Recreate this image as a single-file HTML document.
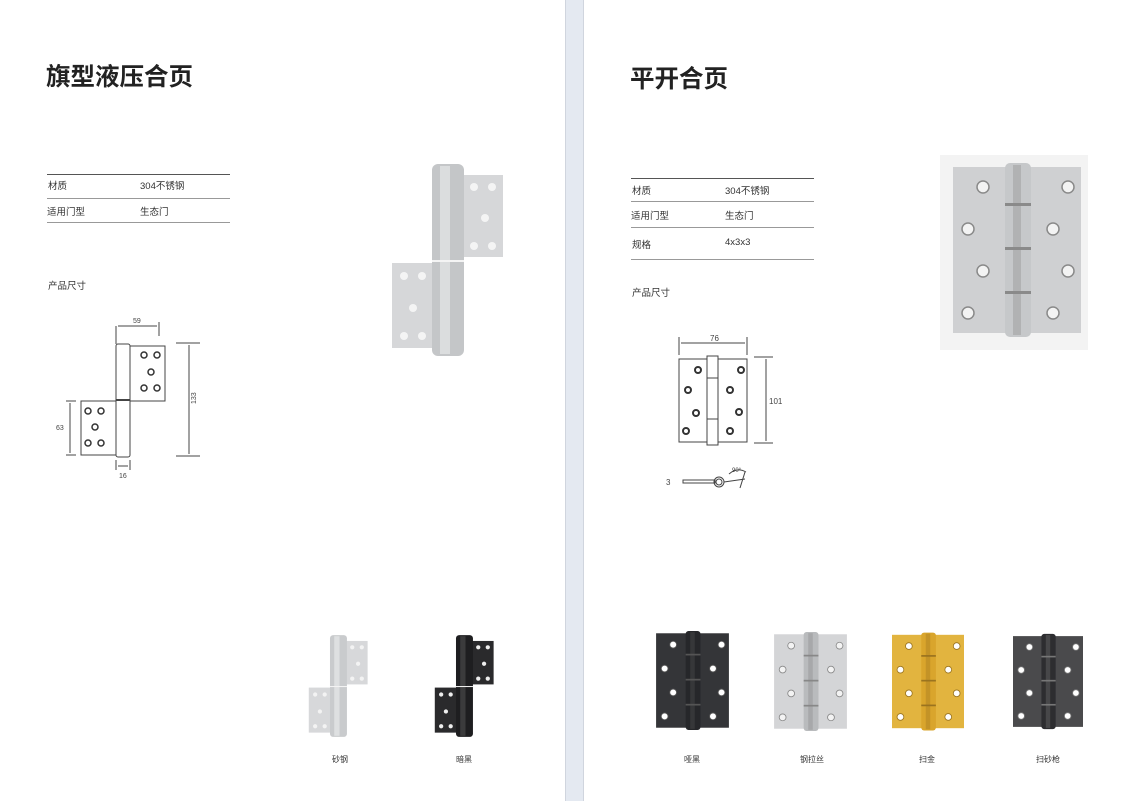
<!DOCTYPE html>
<html><head><meta charset="utf-8"><style>
body{margin:0;width:1147px;height:801px;background:#fff;position:relative;overflow:hidden;font-family:"Liberation Sans","Noto Sans CJK SC",sans-serif;color:#333}
.a{position:absolute;white-space:nowrap}
.h{font-size:24.5px;font-weight:bold;color:#222;font-family:"Noto Sans CJK SC",sans-serif}
.t{font-size:9.5px;color:#333}
.ln{position:absolute;height:1px;background:#999}
</style></head><body>
<div class="a" style="left:565px;top:0;width:17px;height:801px;background:#e4e9f1;border-left:1px solid #d0d5de;border-right:1px solid #d0d5de"></div>

<div class="a h" style="left:46px;top:58px">旗型液压合页</div>
<div class="a h" style="left:630px;top:60px">平开合页</div>

<div class="ln" style="left:47px;top:174px;width:183px;background:#555"></div>
<div class="ln" style="left:47px;top:198px;width:183px"></div>
<div class="ln" style="left:47px;top:222px;width:183px"></div>
<div class="a t" style="left:48px;top:178px">材质</div>
<div class="a t" style="left:140px;top:178px">304不锈钢</div>
<div class="a t" style="left:47px;top:204px">适用门型</div>
<div class="a t" style="left:140px;top:204px">生态门</div>
<div class="a t" style="left:48px;top:278px">产品尺寸</div>

<div class="ln" style="left:631px;top:178px;width:183px;background:#555"></div>
<div class="ln" style="left:631px;top:201px;width:183px"></div>
<div class="ln" style="left:631px;top:227px;width:183px"></div>
<div class="ln" style="left:631px;top:259px;width:183px"></div>
<div class="a t" style="left:632px;top:183px">材质</div>
<div class="a t" style="left:725px;top:183px">304不锈钢</div>
<div class="a t" style="left:631px;top:208px">适用门型</div>
<div class="a t" style="left:725px;top:208px">生态门</div>
<div class="a t" style="left:632px;top:237px">规格</div>
<div class="a t" style="left:725px;top:237px">4x3x3</div>
<div class="a t" style="left:632px;top:285px">产品尺寸</div>

<svg class="a" style="left:0;top:0" width="1147" height="801" viewBox="0 0 1147 801">
<defs>
<symbol id="butt" viewBox="0 0 128 174">
<rect x="0" y="4" width="128" height="166" style="fill:var(--l)"/>
<g style="fill:var(--h);stroke:var(--s);stroke-width:1.5"><circle cx="30" cy="24" r="6"/><circle cx="15" cy="66" r="6"/><circle cx="30" cy="108" r="6"/><circle cx="15" cy="150" r="6"/><circle cx="115" cy="24" r="6"/><circle cx="100" cy="66" r="6"/><circle cx="115" cy="108" r="6"/><circle cx="100" cy="150" r="6"/></g>
<rect x="52" y="0" width="26" height="174" rx="5" style="fill:var(--k)"/>
<g style="fill:var(--s)"><rect x="52" y="40" width="26" height="3"/><rect x="52" y="84" width="26" height="3"/><rect x="52" y="128" width="26" height="3"/></g>
<rect x="60" y="2" width="8" height="170" style="fill:var(--s);opacity:.35"/>
</symbol>
<symbol id="flag" viewBox="0 0 122 200">
<rect x="75" y="15" width="40" height="82" style="fill:var(--l)"/>
<rect x="4" y="103" width="42" height="85" style="fill:var(--l)"/>
<g style="fill:var(--h)"><circle cx="86" cy="27" r="4"/><circle cx="104" cy="27" r="4"/><circle cx="97" cy="58" r="4"/><circle cx="86" cy="86" r="4"/><circle cx="104" cy="86" r="4"/><circle cx="16" cy="116" r="4"/><circle cx="34" cy="116" r="4"/><circle cx="25" cy="148" r="4"/><circle cx="16" cy="176" r="4"/><circle cx="34" cy="176" r="4"/></g>
<rect x="44" y="4" width="32" height="192" rx="6" style="fill:var(--k)"/>
<rect x="52" y="6" width="10" height="188" style="fill:var(--s);opacity:.4"/>
<rect x="44" y="100" width="32" height="2" style="fill:var(--h)"/>
</symbol>
</defs>

<use href="#flag" x="388" y="160" width="122" height="200" style="--l:#d6d7d9;--h:#f4f4f4;--k:#c4c6c8;--s:#fff"/>
<rect x="940" y="155" width="148" height="195" fill="#f3f3f3"/>
<use href="#butt" x="953" y="163" width="128" height="174" style="--l:#cfd0d2;--h:#f3f3f3;--k:#c6c8ca;--s:#8a8a8a"/>

<use href="#flag" x="304" y="633" width="70" height="106" style="--l:#d7d8da;--h:#f3f3f3;--k:#c9cbcd;--s:#fff"/>
<use href="#flag" x="430" y="633" width="70" height="106" style="--l:#2a2a2c;--h:#eee;--k:#1e1e20;--s:#666"/>
<use href="#butt" x="656" y="631" width="73" height="99" style="--l:#343538;--h:#fff;--k:#26272a;--s:#555"/>
<use href="#butt" x="774" y="632" width="73" height="99" style="--l:#d4d5d7;--h:#f3f3f3;--k:#b9bbbd;--s:#888"/>
<use href="#butt" x="892" y="632" width="72" height="99" style="--l:#e2b43f;--h:#fff;--k:#d9a52c;--s:#9a7420"/>
<use href="#butt" x="1013" y="632" width="70" height="99" style="--l:#4a4a4c;--h:#fff;--k:#2d2d30;--s:#777"/>

<g stroke="#444" fill="none" stroke-width="1">
<rect x="130" y="346" width="35" height="55"/>
<rect x="81" y="401" width="36" height="54"/>
<rect x="116" y="344" width="14" height="113" rx="2" fill="#fff"/>
<line x1="116" y1="400" x2="130" y2="400" stroke-width="2"/>
<line x1="116" y1="344" x2="116" y2="326"/><line x1="159" y1="322" x2="159" y2="336"/>
<line x1="118" y1="326" x2="157" y2="326"/>
<line x1="176" y1="343" x2="200" y2="343"/><line x1="176" y1="456" x2="200" y2="456"/>
<line x1="189" y1="345" x2="189" y2="454"/>
<line x1="66" y1="401" x2="76" y2="401"/><line x1="66" y1="455" x2="76" y2="455"/>
<line x1="70" y1="403" x2="70" y2="453"/>
<line x1="116" y1="460" x2="116" y2="470"/><line x1="130" y1="460" x2="130" y2="470"/><line x1="118" y1="466" x2="128" y2="466"/>
<g stroke="#333" stroke-width="1.5"><circle cx="144" cy="355" r="3"/><circle cx="157" cy="355" r="3"/><circle cx="151" cy="372" r="3"/><circle cx="144" cy="388" r="3"/><circle cx="157" cy="388" r="3"/>
<circle cx="88" cy="411" r="3"/><circle cx="101" cy="411" r="3"/><circle cx="95" cy="427" r="3"/><circle cx="88" cy="443" r="3"/><circle cx="101" cy="443" r="3"/></g>
</g>
<g font-size="7" fill="#444" font-family="Liberation Sans,sans-serif">
<text x="133" y="323">59</text><text x="56" y="430">63</text><text x="119" y="478">16</text>
<text x="192" y="408" transform="rotate(-90 192 404)">133</text>
</g>

<g stroke="#444" fill="none" stroke-width="1">
<rect x="679" y="359" width="68" height="83"/>
<rect x="707" y="356" width="11" height="89" fill="#fff"/>
<line x1="707" y1="378" x2="718" y2="378"/><line x1="707" y1="419" x2="718" y2="419"/>
<line x1="679" y1="337" x2="679" y2="355"/><line x1="747" y1="337" x2="747" y2="355"/>
<line x1="681" y1="343" x2="745" y2="343"/>
<line x1="754" y1="357" x2="773" y2="357"/><line x1="754" y1="443" x2="773" y2="443"/>
<line x1="766" y1="359" x2="766" y2="441"/>
<g stroke="#333" stroke-width="2"><circle cx="698" cy="370" r="3"/><circle cx="741" cy="370" r="3"/><circle cx="688" cy="390" r="3"/><circle cx="730" cy="390" r="3"/><circle cx="696" cy="413" r="3"/><circle cx="739" cy="412" r="3"/><circle cx="686" cy="431" r="3"/><circle cx="730" cy="431" r="3"/></g>
<rect x="683" y="480" width="32" height="3"/>
<circle cx="719" cy="482" r="5"/><circle cx="719" cy="482" r="3"/>
<line x1="724" y1="482" x2="745" y2="479"/><line x1="745" y1="472" x2="740" y2="488"/>
<path d="M729 474 Q737 467 746 472"/>
</g>
<g font-size="8" fill="#444" font-family="Liberation Sans,sans-serif">
<text x="710" y="341">76</text><text x="769" y="404">101</text><text x="666" y="485">3</text><text x="732" y="472" font-size="6">90°</text>
</g>
</svg>

<div class="a" style="left:332px;top:754px;font-size:8px">砂钢</div>
<div class="a" style="left:456px;top:754px;font-size:8px">暗黑</div>
<div class="a" style="left:684px;top:754px;font-size:8px">哑黑</div>
<div class="a" style="left:800px;top:754px;font-size:8px">钢拉丝</div>
<div class="a" style="left:919px;top:754px;font-size:8px">扫金</div>
<div class="a" style="left:1036px;top:754px;font-size:8px">扫砂枪</div>
</body></html>
